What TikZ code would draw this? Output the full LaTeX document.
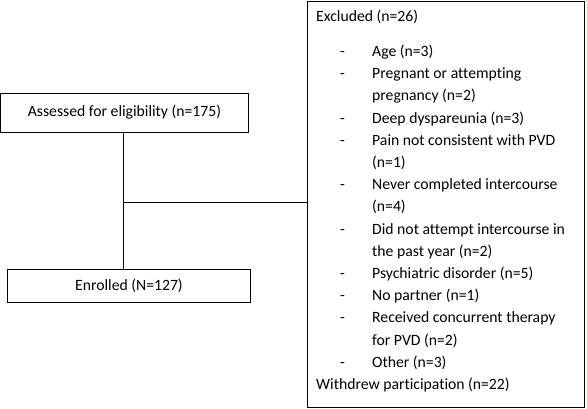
\documentclass[tikz,border=0pt]{standalone}
\usepackage{fontspec}
\setmainfont{Carlito}[Ligatures=NoCommon]
\begin{document}
\begin{tikzpicture}[x=1pt,y=-1pt,
  box/.style={draw, line width=0.8pt, inner sep=0pt},
  txt/.style={anchor=base west, inner sep=0pt, font=\fontsize{15.7}{18}\selectfont},
  ln/.style={line width=0.8pt}]
\useasboundingbox (0,0) rectangle (587,408);
\node[box, minimum width=248pt, minimum height=39pt] (assess) at (124.5,112.5) {};
\node[txt, anchor=center] (assesst) at (assess.center) {Assessed for eligibility (n=175)};
\node[box, minimum width=243pt, minimum height=33pt] (enrol) at (129,285.5) {};
\node[txt, anchor=center] (enrolt) at (enrol.center) {Enrolled (N=127)};
\node[box, minimum width=277pt, minimum height=406pt] (excl) at (445.5,204) {};
\coordinate (j) at (123,202);
\draw[ln] (assess.south -| j) -- (enrol.north -| j);
\draw[ln] (j) -- (j -| excl.west);
\node[txt] (ex) at (316,21.5) {Excluded (n=26)};
\foreach \i/\d/\t in {0/1/Age (n=3),1/1/Pregnant or attempting,2/0/pregnancy (n=2),3/1/Deep dyspareunia (n=3),4/1/Pain not consistent with PVD,5/0/(n=1),6/1/Never completed intercourse,7/0/(n=4),8/1/Did not attempt intercourse in,9/0/the past year (n=2),10/1/Psychiatric disorder (n=5),11/1/No partner (n=1),12/1/Received concurrent therapy,13/0/for PVD (n=2),14/1/Other (n=3)} {
  \node[txt] (l\i) at (372,56.5+22.2*\i) {\t};
  \ifnum\d=1 \node[txt] (d\i) at (340,56.5+22.2*\i) {-}; \fi
}
\node[txt] (wd) at (316,389.5) {Withdrew participation (n=22)};
\end{tikzpicture}
\end{document}
